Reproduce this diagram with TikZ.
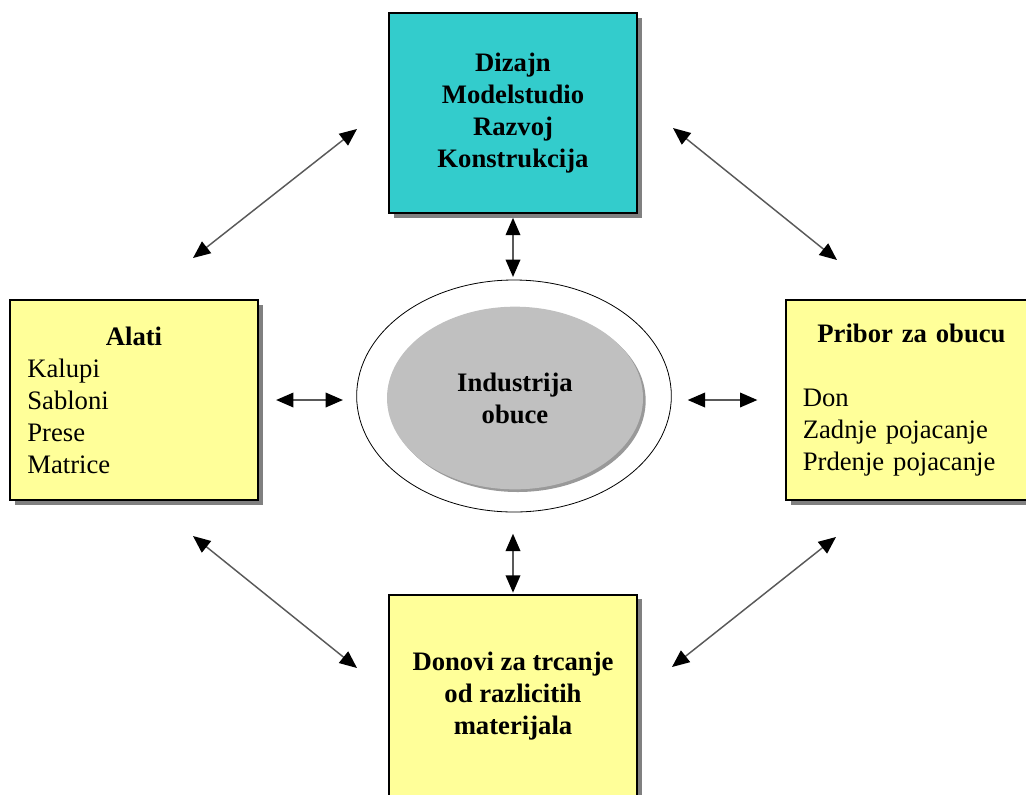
\documentclass[tikz,border=0pt]{standalone}
\usepackage{fontspec}
\setmainfont{Liberation Serif}
\usetikzlibrary{arrows.meta,shapes.geometric,shadows}
\definecolor{tealbox}{RGB}{51,204,204}
\definecolor{yellowbox}{RGB}{255,255,153}
\definecolor{grayoval}{RGB}{192,192,192}

\begin{document}
\begin{tikzpicture}[x=0.75pt,y=-0.75pt,
	box/.style={draw=black,line width=1.2pt,minimum width=186pt,minimum height=150pt,inner sep=0pt,
		font=\fontsize{20}{24}\selectfont,
		drop shadow={shadow xshift=3.5pt,shadow yshift=-3.5pt,fill=black!50,opacity=1}},
	link/.style={line width=1.1pt,draw=black!65,
		{Triangle[length=13pt,width=11pt,color=black]}-{Triangle[length=13pt,width=11pt,color=black]}}]
	\useasboundingbox (0,0) rectangle (1026,794);

		\node[box,fill=tealbox,align=center,font=\fontsize{20}{24}\selectfont\bfseries] (dizajn) at (513,113) {Dizajn\\Modelstudio\\Razvoj\\Konstrukcija};
		\node[box,fill=yellowbox,text width=160pt,align=left] (alati) at (134,400) {\makebox[\linewidth]{\bfseries Alati}\\Kalupi\\Sabloni\\Prese\\Matrice};
		\node[box,fill=yellowbox,minimum width=188pt,text width=163pt,align=left] (pribor) at (911.5,400) {\makebox[\linewidth]{\bfseries Pribor za obucu}\\[24pt]Don\\Zadnje pojacanje\\Prdenje pojacanje};
		\node[box,fill=yellowbox,anchor=north,minimum height=160pt,align=center,font=\fontsize{20}{24}\selectfont\bfseries] (donovi) at (513,594) {Donovi za trcanje\\od razlicitih\\materijala\\[-11pt]\mbox{}};

		\node[draw,ellipse,line width=0.6pt,inner sep=0pt,minimum width=236pt,minimum height=174pt] (ring) at (514,396) {};
		\node[ellipse,fill=grayoval,inner sep=0pt,minimum width=192pt,minimum height=137pt,align=center,
			font=\fontsize{20}{24}\selectfont\bfseries,
			drop shadow={shadow xshift=2pt,shadow yshift=-2pt,fill=black!40,opacity=1}] (industrija) at (515,398) {Industrija\\obuce};

		\coordinate (tl1) at (193,258);
		\coordinate (tl2) at (357,129);
		\coordinate (tr1) at (673,128);
		\coordinate (tr2) at (837,260);
		\coordinate (bl1) at (193,536);
		\coordinate (bl2) at (357,668);
		\coordinate (br1) at (672,667);
		\coordinate (br2) at (836,537);

		\draw[link] (tl1) -- (tl2);
		\draw[link] (tr1) -- (tr2);
		\draw[link] (bl1) -- (bl2);
		\draw[link] (br1) -- (br2);

		\draw[link,shorten <=3pt,shorten >=2pt] (dizajn.south) -- (dizajn.south |- ring.north);
		\draw[link,shorten <=16pt,shorten >=1pt] (donovi.north |- ring.south) -- (donovi.north);
		\draw[link,shorten <=13pt,shorten >=10pt] (alati.east) -- (alati.east -| ring.west);
		\draw[link,shorten <=12pt,shorten >=21pt] (pribor.west -| ring.east) -- (pribor.west);

\end{tikzpicture}
\end{document}
